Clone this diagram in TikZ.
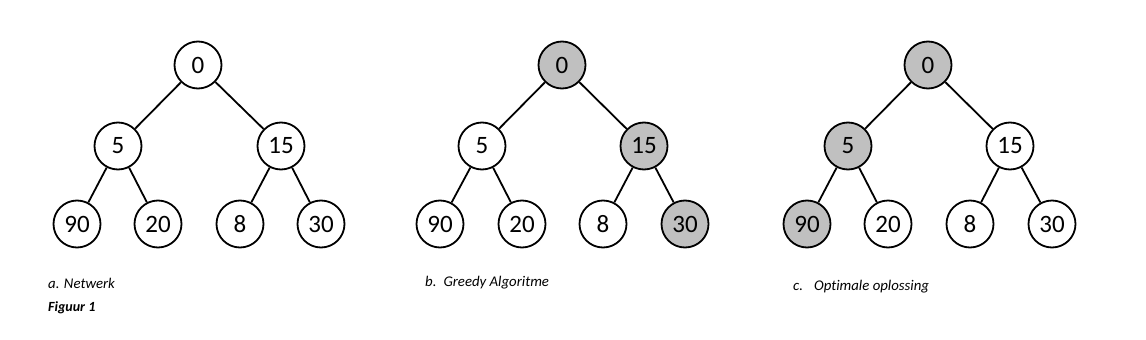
\documentclass[tikz,border=0pt]{standalone}
\usepackage{fontspec}
\setmainfont{Carlito}[Ligatures=NoCommon]
\usetikzlibrary{positioning}
\definecolor{chosen}{HTML}{C0C0C0}

\begin{document}
\begin{tikzpicture}[x=1pt,y=-1pt,
    vertex/.style={circle,draw,line width=1.8pt,minimum size=47pt,inner sep=0pt,
                   font=\fontsize{25}{25}\selectfont},
    picked/.style={vertex,fill=chosen},
    edge/.style={line width=1.8pt},
    caption/.style={anchor=base west,inner sep=0pt,font=\fontsize{14.8}{16}\selectfont\itshape}]
    \useasboundingbox (0,0) rectangle (1146,340);

    % a. netwerk
    \node[vertex] (a0) at (198,65) {0};
    \node[vertex] (a5) at (118,146) {5};
    \node[vertex] (a15) at (281,146) {15};
    \node[vertex] (a90) at (77,224) {90};
    \node[vertex] (a20) at (158,224) {20};
    \node[vertex] (a8) at (240,224) {8};
    \node[vertex] (a30) at (321,224) {30};
    \draw[edge] (a0) -- (a5);
    \draw[edge] (a0) -- (a15);
    \draw[edge] (a5) -- (a90);
    \draw[edge] (a5) -- (a20);
    \draw[edge] (a15) -- (a8);
    \draw[edge] (a15) -- (a30);
    \node[caption] (capa) at (48,288) {a. Netwerk};
    \node[caption,font=\fontsize{14}{16}\selectfont\itshape\bfseries] (fig) at (48,311) {Figuur 1};

    % b. greedy
    \node[picked] (b0) at (562,65) {0};
    \node[vertex] (b5) at (482,146) {5};
    \node[picked] (b15) at (644,146) {15};
    \node[vertex] (b90) at (440,224) {90};
    \node[vertex] (b20) at (522,224) {20};
    \node[vertex] (b8) at (603,224) {8};
    \node[picked] (b30) at (685,224) {30};
    \draw[edge] (b0) -- (b5);
    \draw[edge] (b0) -- (b15);
    \draw[edge] (b5) -- (b90);
    \draw[edge] (b5) -- (b20);
    \draw[edge] (b15) -- (b8);
    \draw[edge] (b15) -- (b30);
    \node[caption] (capb) at (425,286) {b.\hspace{7pt}Greedy Algoritme};

    % c. optimaal
    \node[picked] (c0) at (928,65) {0};
    \node[picked] (c5) at (848,146) {5};
    \node[vertex] (c15) at (1010,146) {15};
    \node[picked] (c90) at (807,224) {90};
    \node[vertex] (c20) at (888,224) {20};
    \node[vertex] (c8) at (970,224) {8};
    \node[vertex] (c30) at (1052,224) {30};
    \draw[edge] (c0) -- (c5);
    \draw[edge] (c0) -- (c15);
    \draw[edge] (c5) -- (c90);
    \draw[edge] (c5) -- (c20);
    \draw[edge] (c15) -- (c8);
    \draw[edge] (c15) -- (c30);
    \node[caption] (capc) at (793,290) {c.\hspace{11pt}Optimale oplossing};
\end{tikzpicture}
\end{document}
